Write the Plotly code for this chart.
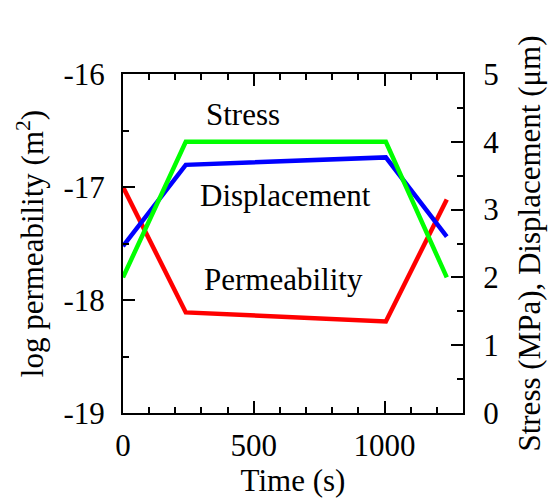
import plotly.graph_objects as go

# Loading schedule (time in seconds)
time_s = [0, 240, 1005, 1238]
stress_mpa = [2.0, 4.0, 4.0, 2.0]
displacement_um = [2.46, 3.66, 3.77, 2.60]
log_permeability = [-17.0, -18.11, -18.19, -17.11]

x_ticks = [0, 500, 1000]
left_ticks = [-19, -18, -17, -16]
left_tick_text = ["-19", "-18", "-17", "-16"]
right_ticks = [0, 1, 2, 3, 4, 5]

FONT = "Liberation Serif"
FS = 31

fig = go.Figure()
fig.add_trace(go.Scatter(x=time_s, y=log_permeability, mode="lines",
                         line=dict(color="#ff0000", width=4.5), yaxis="y"))
fig.add_trace(go.Scatter(x=time_s, y=displacement_um, mode="lines",
                         line=dict(color="#0000ff", width=4.5), yaxis="y2"))
fig.add_trace(go.Scatter(x=time_s, y=stress_mpa, mode="lines",
                         line=dict(color="#00ff00", width=4.5), yaxis="y2"))

axis_common = dict(
    showline=True, linecolor="black", linewidth=2,
    ticks="inside", ticklen=12, tickwidth=1.5, tickcolor="black",
    showgrid=False, zeroline=False,
    tickfont=dict(family=FONT, size=FS, color="black"),
)

fig.update_layout(
    template="none",
    width=553, height=503,
    margin=dict(l=123, r=90, t=74, b=90),
    paper_bgcolor="white", plot_bgcolor="white",
    showlegend=False,
    font=dict(family=FONT, size=FS, color="black"),
    xaxis=dict(
        range=[0, 1300], tickvals=x_ticks, mirror="ticks",
        minor=dict(dtick=100, ticks="inside", ticklen=6, tickwidth=1.5, tickcolor="black", showgrid=False),
        title=dict(text="Time (s)", font=dict(family=FONT, size=FS, color="black"), standoff=5),
        ticklabelstandoff=4,
        **axis_common,
    ),
    yaxis=dict(
        range=[-19, -16], tickvals=left_ticks, ticktext=left_tick_text,
        minor=dict(dtick=0.5, ticks="inside", ticklen=6, tickwidth=1.5, tickcolor="black", showgrid=False),
        title=dict(text="log permeability (m<sup>2</sup>)", font=dict(family=FONT, size=FS, color="black"), standoff=11),
        ticklabelstandoff=10,
        **axis_common,
    ),
    yaxis2=dict(
        range=[0, 5], tickvals=right_ticks, overlaying="y", side="right",
        minor=dict(dtick=0.5, ticks="inside", ticklen=6, tickwidth=1.5, tickcolor="black", showgrid=False),
        title=dict(text="Stress (MPa), Displacement (μm)", font=dict(family=FONT, size=FS, color="black"), standoff=20),
        ticklabelstandoff=12,
        **axis_common,
    ),
    annotations=[
        dict(text="Stress", x=458, y=4.40, xref="x", yref="y2", showarrow=False,
             font=dict(family=FONT, size=FS, color="black")),
        dict(text="Displacement", x=623, y=3.21, xref="x", yref="y2", showarrow=False,
             font=dict(family=FONT, size=FS, color="black")),
        dict(text="Permeability", x=612, y=1.97, xref="x", yref="y2", showarrow=False,
             font=dict(family=FONT, size=FS, color="black")),
    ],
)

fig.write_html("out.html")
